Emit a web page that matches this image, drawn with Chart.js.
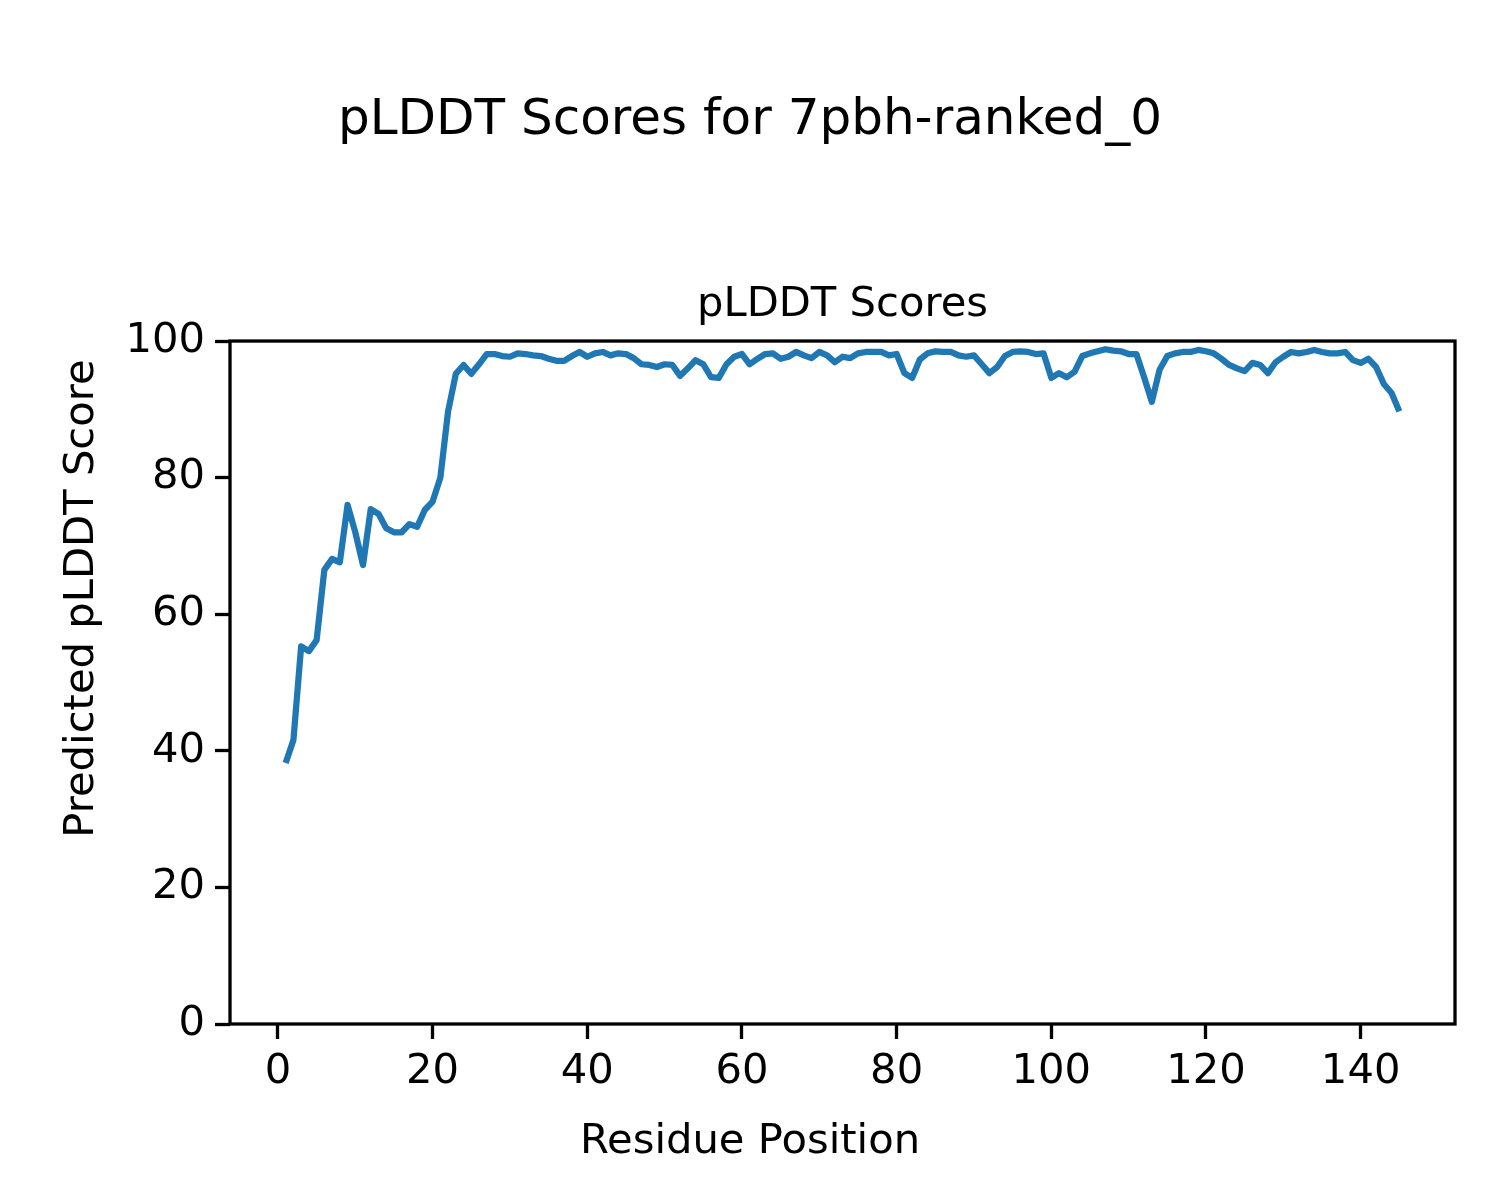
<!DOCTYPE html>
<html>
<head>
<meta charset="utf-8">
<script src="https://cdn.jsdelivr.net/npm/chart.js@4/dist/chart.umd.min.js"></script>
<style>
  html, body { margin: 0; padding: 0; background: #ffffff; }
  #wrap { width: 1500px; height: 1200px; }
</style>
</head>
<body>
<div id="wrap"><canvas id="c" width="1500" height="1200"></canvas></div>
<script>
const figureTitle = "pLDDT Scores for 7pbh-ranked_0";
const axesTitle = "pLDDT Scores";
const xLabel = "Residue Position";
const yLabel = "Predicted pLDDT Score";

const residues = [
  1,2,3,4,5,6,7,8,9,10,11,12,13,14,15,16,17,18,19,20,
  21,22,23,24,25,26,27,28,29,30,31,32,33,34,35,36,37,38,39,40,
  41,42,43,44,45,46,47,48,49,50,51,52,53,54,55,56,57,58,59,60,
  61,62,63,64,65,66,67,68,69,70,71,72,73,74,75,76,77,78,79,80,
  81,82,83,84,85,86,87,88,89,90,91,92,93,94,95,96,97,98,99,100,
  101,102,103,104,105,106,107,108,109,110,111,112,113,114,115,116,117,118,119,120,
  121,122,123,124,125,126,127,128,129,130,131,132,133,134,135,136,137,138,139,140,
  141,142,143,144,145
];

const plddt = [
  38.2,41.6,55.3,54.6,56.2,66.5,68.1,67.6,76.0,72.0,
  67.2,75.4,74.7,72.6,72.0,72.0,73.2,72.8,75.3,76.5,
  80.0,89.7,95.2,96.5,95.2,96.6,98.1,98.1,97.8,97.7,
  98.2,98.1,97.9,97.8,97.4,97.1,97.1,97.8,98.4,97.7,
  98.2,98.4,97.9,98.2,98.1,97.5,96.6,96.5,96.2,96.6,
  96.5,94.9,96.0,97.2,96.6,94.7,94.6,96.6,97.7,98.1,
  96.6,97.4,98.1,98.2,97.4,97.7,98.4,97.9,97.5,98.4,
  97.9,96.9,97.7,97.5,98.2,98.4,98.4,98.4,97.9,98.1,
  95.3,94.6,97.3,98.2,98.5,98.4,98.4,97.9,97.7,97.9,
  96.6,95.3,96.2,97.8,98.4,98.5,98.4,98.1,98.2,94.6,
  95.3,94.7,95.5,97.8,98.2,98.5,98.8,98.6,98.5,98.1,
  98.1,94.7,91.1,95.8,97.8,98.2,98.4,98.4,98.7,98.5,
  98.2,97.4,96.5,96.0,95.6,96.8,96.5,95.3,96.9,97.7,
  98.4,98.2,98.4,98.7,98.4,98.2,98.2,98.4,97.2,96.8,
  97.4,96.2,93.7,92.4,89.7
];

const xTicks = [0, 20, 40, 60, 80, 100, 120, 140];
const yTicks = [0, 20, 40, 60, 80, 100];

const FONT = "'DejaVu Sans', sans-serif";

const points = residues.map((r, i) => ({ x: r, y: plddt[i] }));

const frame = {
  id: 'frame',
  afterDatasetsDraw(chart) {
    const a = chart.chartArea;
    const ctx = chart.ctx;
    ctx.save();
    ctx.strokeStyle = '#000';
    ctx.lineWidth = 3.3;
    ctx.strokeRect(a.left, a.top, a.right - a.left, a.bottom - a.top);
    ctx.restore();
  }
};

// figure-level texts (suptitle, supxlabel, supylabel) centred on the whole figure
const figureTexts = {
  id: 'figureTexts',
  afterDraw(chart) {
    const ctx = chart.ctx;
    const W = chart.width, H = chart.height;
    ctx.save();
    ctx.fillStyle = '#000';
    ctx.textAlign = 'center';
    ctx.textBaseline = 'alphabetic';
    ctx.font = "50px " + FONT;
    ctx.fillText(figureTitle, W / 2, 134);
    ctx.font = "41.7px " + FONT;
    ctx.fillText(xLabel, W / 2, 1153);
    ctx.translate(93, H / 2 - 1.5);
    ctx.rotate(-Math.PI / 2);
    ctx.fillText(yLabel, 0, 0);
    ctx.restore();
  }
};

new Chart(document.getElementById('c'), {
  type: 'line',
  data: {
    datasets: [{
      data: points,
      borderColor: '#1f77b4',
      borderWidth: 6.25,
      pointRadius: 0,
      tension: 0,
      fill: false,
      borderJoinStyle: 'round',
      borderCapStyle: 'butt'
    }]
  },
  options: {
    responsive: false,
    animation: false,
    devicePixelRatio: 1,
    layout: { padding: 0 },
    plugins: {
      legend: { display: false },
      tooltip: { enabled: false },
      title: { display: false },
      subtitle: {
        display: true,
        fullSize: false,
        text: axesTitle,
        color: '#000',
        font: { family: FONT, size: 41.7, weight: 'normal', lineHeight: 1.2 },
        padding: { top: 280, bottom: 11 }
      }
    },
    scales: {
      x: {
        type: 'linear',
        min: -6.2,
        max: 152.2,
        afterFit(s) { s.height = 176; },
        afterBuildTicks(s) { s.ticks = xTicks.map(v => ({ value: v })); },
        border: { display: false },
        grid: { drawOnChartArea: false, drawTicks: true, tickLength: 15, tickWidth: 3.3, tickColor: '#000' },
        ticks: {
          color: '#000', padding: 8, maxRotation: 0, autoSkip: false,
          font: { family: FONT, size: 41.7 }
        }
      },
      y: {
        type: 'linear',
        position: 'left',
        min: 0,
        max: 100,
        afterFit(s) { s.width = 230; },
        afterBuildTicks(s) { s.ticks = yTicks.map(v => ({ value: v })); },
        border: { display: false },
        grid: { drawOnChartArea: false, drawTicks: true, tickLength: 15, tickWidth: 3.3, tickColor: '#000' },
        ticks: {
          color: '#000', padding: 10, autoSkip: false,
          font: { family: FONT, size: 41.7 }
        }
      },
      yRightMargin: {
        type: 'linear',
        position: 'right',
        display: true,
        afterFit(s) { s.width = 45; },
        border: { display: false },
        grid: { display: false },
        ticks: { display: false }
      }
    }
  },
  plugins: [frame, figureTexts]
});
</script>
</body>
</html>
